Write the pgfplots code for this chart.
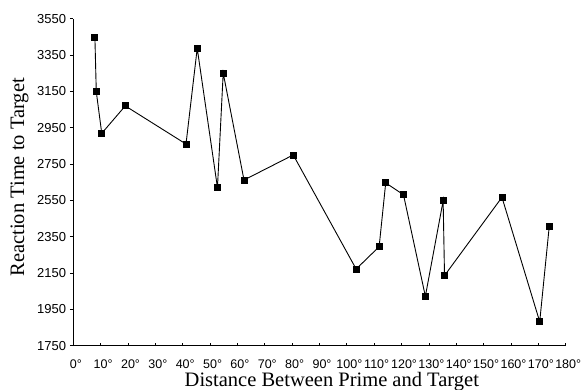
\documentclass[border=0pt]{standalone}
\usepackage{fontspec}
\setmainfont{Liberation Serif}
\newfontfamily\tickfont{Liberation Sans}
\usepackage{pgfplots}
\pgfplotsset{compat=1.18}
\begin{document}
\begin{tikzpicture}
\begin{axis}[
  at={(0,0)}, anchor=south west,
  scale only axis, width=492.4pt, height=327pt,
  xmin=0, xmax=180, ymin=1750, ymax=3550,
  axis x line*=bottom, axis y line*=left,
  axis line style={line width=0.8pt, black},
  xtick={0,10,...,180},
  xticklabels={0\rlap{°},10\rlap{°},20\rlap{°},30\rlap{°},40\rlap{°},50\rlap{°},60\rlap{°},70\rlap{°},80\rlap{°},90\rlap{°},100\rlap{°},110\rlap{°},120\rlap{°},130\rlap{°},140\rlap{°},150\rlap{°},160\rlap{°},170\rlap{°},180\rlap{°}},
  ytick={1750,1950,2150,2350,2550,2750,2950,3150,3350,3550},
  yticklabels={1750,1950,2150,2350,2550,2750,2950,3150,3350,3550},
  tick align=outside, major tick length=3.5pt,
  tick style={line width=0.8pt, black},
  x tick style={yshift=3pt},
  xticklabel style={font=\fontsize{12.5}{14}\tickfont, inner sep=0pt, anchor=north, yshift=-10pt},
  yticklabel style={font=\fontsize{13}{15}\tickfont, inner sep=0pt, anchor=east, xshift=-3.5pt},
  xlabel={Distance Between Prime and Target},
  ylabel={Reaction Time to Target},
  label style={font=\fontsize{20.5}{24}\selectfont},
  xlabel style={at={(axis description cs:0.525,-0.1254)}, anchor=base},
  ylabel style={at={(axis description cs:-0.109,0.515)}, anchor=center, rotate=0},
  clip=false,
]
\addplot[black, line width=0.9pt, mark=square*, mark size=3pt, mark options={solid}] coordinates {
(7.9,3445) (8.4,3148) (10.4,2919) (19.0,3070) (41.2,2860) (45.3,3387)
(52.7,2620) (54.8,3251) (62.4,2662) (80.4,2800) (103.4,2172) (111.8,2295)
(114.2,2646) (120.7,2581) (128.7,2022) (135.2,2548) (135.7,2136)
(156.7,2567) (170.5,1882) (174.0,2409)
};
\end{axis}
\pgfresetboundingbox
\path (-73.3pt,-43.3pt) rectangle (507.7pt,345.7pt);
\end{tikzpicture}
\end{document}
